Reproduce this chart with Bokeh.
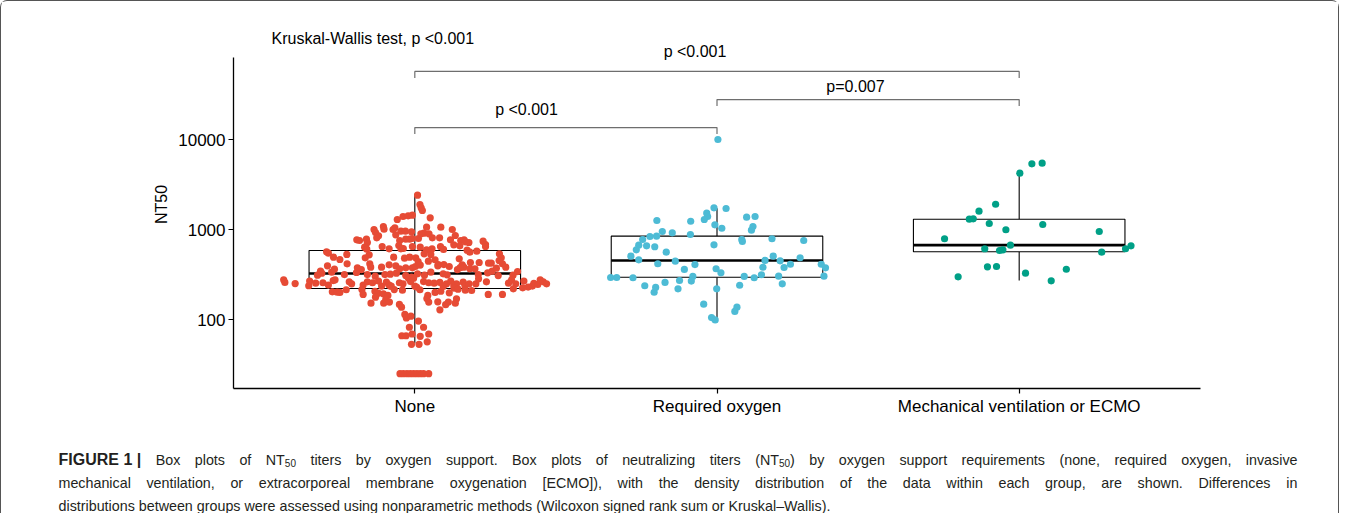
import numpy as np
from bokeh.plotting import figure
from bokeh.layouts import column, row
from bokeh.models import Label, FixedTicker, NumeralTickFormatter, Range1d
from bokeh.embed import file_html
from bokeh.resources import INLINE

# ---------------- data ----------------
categories = ["None", "Required oxygen", "Mechanical ventilation or ECMO"]
group_colors = ["#E64B35", "#4DBBD5", "#00A087"]

none_nt50 = [
    2407, 1895, 1740, 1626, 1348, 1395, 1419, 1443, 1292,
    1000, 926, 1080, 1009, 1000, 1044, 958, 958, 942, 1062, 1062, 1000,
    910, 895, 808, 808, 768, 755, 781, 717, 850, 808,
    872, 755, 781, 781, 794, 794, 895,
    858, 768, 755, 768, 729, 717, 742, 681,
    636, 605, 647, 610, 664, 615, 610,
    647, 636, 594, 610, 647, 600, 675, 658, 589, 560, 575, 647,
    565, 546, 528, 493, 464, 484, 523, 493, 480, 493, 484, 441,
    537, 528, 460, 408, 408, 388, 472, 405, 381, 430, 430, 423, 423, 537, 484, 416, 452,
    395, 362, 416, 375, 359, 416, 381, 381, 405, 395, 366, 375, 375, 388, 402, 445,
    344, 327, 311, 336, 316, 333, 316, 303, 316, 319, 327, 308, 288, 295, 288, 322, 311,
    336, 395, 322, 314, 359, 378, 366, 366, 316, 330, 344, 372, 308, 381, 311, 341,
    276, 258, 251, 237, 267, 253, 256, 241, 271, 276, 249, 262, 241, 262, 256, 267, 235,
    260, 243, 235, 256, 249, 264, 235, 229, 264, 256, 253, 258, 249, 267, 239, 249, 260,
    237, 249, 249, 283, 262, 253, 276, 249, 267, 229, 235, 253, 245, 276, 262, 249,
    203, 201, 200, 214, 215, 190, 206, 196, 193, 185, 235, 215, 212, 214, 185, 200, 206,
    233, 198, 223, 217, 212, 210, 190, 190, 219, 225,
    152, 177, 152, 167, 156, 147, 137, 171, 156, 157, 128, 146, 156, 170, 152,
    114, 104, 109, 96, 82, 82, 66, 66, 69, 65, 69, 53, 53, 56.5,
    25, 25, 25, 25, 25, 25, 25, 25, 25,
]
none_jitter = [
    0.009, 0.017, 0.021, 0.025, 0.051, -0.039, -0.022, -0.008, -0.058,
    -0.135, -0.130, -0.104, -0.102, -0.072, -0.066, -0.046, -0.031, -0.011, 0.039, 0.086, 0.124,
    0.030, 0.047, 0.082, 0.058, -0.192, -0.183, -0.160, -0.157, -0.120, -0.126,
    -0.063, -0.050, -0.030, -0.017, -0.008, 0.012, 0.020,
    0.134, 0.118, 0.152, 0.163, 0.168, 0.179, 0.226, 0.234,
    -0.166, -0.159, -0.108, -0.085, -0.053, -0.038, -0.046,
    -0.008, 0.018, 0.039, 0.057, 0.085, 0.095, 0.129, 0.149, 0.173, 0.182, 0.205, 0.234,
    -0.292, -0.286, -0.225, -0.269, -0.248, -0.164, -0.151, -0.070, -0.034, -0.017, 0.003, 0.011,
    0.031, 0.053, 0.067, 0.078, 0.096, 0.114, 0.147, 0.157, 0.162, 0.184, 0.213, 0.244, 0.253, 0.280, 0.286, 0.290, 0.279,
    -0.289, -0.266, -0.224, -0.190, -0.177, -0.149, -0.146, -0.110, -0.085, -0.063, -0.050, -0.030, -0.008, 0.002, 0.018, 0.045,
    -0.312, -0.308, -0.322, -0.275, -0.233, -0.193, -0.157, -0.131, -0.099, -0.081, -0.061, -0.030, -0.021, -0.011, -0.004, 0.009, 0.032,
    0.053, 0.076, 0.094, 0.107, 0.141, 0.150, 0.182, 0.199, 0.210, 0.241, 0.256, 0.270, 0.276, 0.301, 0.325, 0.340,
    -0.434, -0.430, -0.396, -0.351, -0.348, -0.328, -0.304, -0.286, -0.270, -0.264, -0.209, -0.217, -0.171, -0.157, -0.140, -0.120, -0.110,
    -0.094, -0.086, -0.081, -0.051, -0.039, -0.014, 0.000, 0.006, 0.029, 0.046, 0.064, 0.083, 0.105, 0.119, 0.129, 0.138, 0.160,
    0.166, 0.180, 0.202, 0.211, 0.237, 0.310, 0.320, 0.334, 0.361, 0.375, 0.389, 0.394, 0.407, 0.415, 0.425, 0.436,
    -0.273, -0.257, -0.248, -0.227, -0.175, -0.171, -0.132, -0.121, -0.104, -0.089, -0.078, -0.068, -0.041, 0.017, 0.043, 0.067, 0.086,
    0.094, 0.114, 0.130, 0.143, 0.167, 0.188, 0.243, 0.290, 0.326, 0.357,
    -0.145, -0.130, -0.103, -0.096, -0.084, -0.051, -0.044, 0.040, 0.046, 0.076, 0.083, 0.102, 0.111, 0.138, 0.134,
    -0.033, -0.028, -0.013, 0.012, -0.018, 0.029, -0.043, -0.029, -0.009, 0.018, 0.046, -0.011, 0.014, 0.041,
    -0.049, -0.038, -0.026, -0.015, -0.004, 0.007, 0.018, 0.029, 0.046,
]

oxygen_nt50 = [
    1742, 1711, 1517, 1394, 1292, 1371, 1394, 1259, 1236, 1127, 1033, 1080, 982,
    950, 918, 880, 836, 843, 774, 774, 736, 789, 755, 670, 659, 643, 676, 594,
    560, 505, 460, 445, 416, 408, 505, 453, 449, 485, 411, 378, 381, 411, 375,
    360, 366, 330, 301, 293, 293, 291, 301, 291, 314, 303, 303, 267, 271, 258,
    237, 227, 201, 219, 219, 240, 249, 148, 137, 123, 105, 99, 10000,
]
oxygen_jitter = [
    -0.010, 0.030, -0.034, -0.031, -0.042, 0.098, 0.126, -0.199, -0.087, -0.007, 0.016, 0.119, 0.114,
    -0.181, -0.148, -0.088, -0.222, -0.200, -0.246, 0.082, 0.084, 0.182, 0.287, -0.259, -0.233, -0.206, -0.010, -0.267,
    -0.168, -0.285, -0.259, -0.138, -0.196, -0.073, 0.186, 0.159, 0.209, 0.275, 0.243, 0.222, 0.152, 0.345, 0.359,
    -0.108, -0.003, 0.013, -0.080, -0.352, -0.332, -0.278, 0.090, 0.123, 0.147, 0.204, 0.354, -0.085, -0.124, -0.172,
    -0.239, -0.203, -0.208, -0.129, -0.001, 0.075, 0.216, -0.044, 0.066, 0.059, -0.018, -0.006, 0.003,
]

mech_nt50 = [
    4223, 5370, 5454, 1910, 1597, 1301, 1315, 1166, 1137, 993, 950, 789, 670,
    611, 585, 594, 560, 611, 659, 385, 388, 362, 327, 298, 269,
]
mech_jitter = [
    0.002, 0.042, 0.076, -0.078, -0.133, -0.165, -0.152, -0.099, 0.078, -0.044, 0.265, -0.247, -0.029,
    -0.114, -0.065, -0.054, 0.273, 0.352, 0.370, -0.105, -0.075, 0.156, 0.021, -0.202, 0.106,
]

# box-plot statistics as drawn in the reference
box_q1 = [221, 295, 565]
box_median = [324, 453, 670]
box_q3 = [585, 844, 1300]
whisker_low = [54, 99, 271]
whisker_high = [2407, 1726, 4225]

# pairwise comparisons (group a, group b, label)
comparisons = [(1, 2, "p <0.001"), (2, 3, "p=0.007"), (1, 3, "p <0.001")]
kruskal_text = "Kruskal-Wallis test, p <0.001"
y_label = "NT50"

# caption text; "_{..}" marks a subscript
caption_bold = "FIGURE 1 |"
caption_lines = [
    "Box plots of NT_{50} titers by oxygen support. Box plots of neutralizing titers (NT_{50}) by oxygen support requirements (none, required oxygen, invasive",
    "mechanical ventilation, or extracorporeal membrane oxygenation [ECMO]), with the density distribution of the data within each group, are shown. Differences in",
    "distributions between groups were assessed using nonparametric methods (Wilcoxon signed rank sum or Kruskal\u2013Wallis).",
]

# ---------------- layout (page px of the reference) ----------------
W = 1339
H_MAIN, H_CAP = 430, 83
BRD = 1                      # css border width
FL, FT, FR, FB = 233, 20, 1200, 388   # plot frame in page px
X0, X1 = 0.4, 3.6
Y0 = 10 ** (4 - (FB - 139) / 90.0)    # 90 px per decade, 10000 at y=139
Y1 = 10 ** (4 + (139 - FT) / 90.0)
FONT = "Liberation Sans"
BORDER = "1px solid #555555"


def dx(px):
    return X0 + (px - FL) / (FR - FL) * (X1 - X0)


def dy(py):
    ly0, ly1 = np.log10(Y0), np.log10(Y1)
    return 10 ** (ly1 - (py - FT) / (FB - FT) * (ly1 - ly0))


p = figure(width=W, height=H_MAIN, output_backend="svg", toolbar_location=None, title=None,
           x_range=Range1d(X0, X1), y_range=Range1d(Y0, Y1), y_axis_type="log",
           min_border_left=FL - BRD, min_border_right=W - (FR - BRD),
           min_border_top=FT - BRD, min_border_bottom=H_MAIN - (FB - BRD))
p.xgrid.visible = False
p.ygrid.visible = False
p.outline_line_color = None
p.background_fill_color = "white"
p.border_fill_color = "white"
p.styles = {"border-top": BORDER, "border-left": BORDER, "border-right": BORDER,
            "border-radius": "7px 7px 0 0"}

# axes
p.xaxis.ticker = FixedTicker(ticks=[1, 2, 3])
p.xaxis.major_label_overrides = {1: categories[0], 2: categories[1], 3: categories[2]}
p.yaxis.ticker = FixedTicker(ticks=[100, 1000, 10000])
p.yaxis.formatter = NumeralTickFormatter(format="0")
p.yaxis.bounds = (Y0, dy(57))
for ax in (p.xaxis, p.yaxis):
    ax.axis_line_color = "black"
    ax.axis_line_width = 1.3
    ax.major_tick_line_color = "black"
    ax.major_tick_line_width = 1.2
    ax.major_tick_out = 5
    ax.major_tick_in = 0
    ax.minor_tick_line_color = None
    ax.major_label_text_font = FONT
    ax.major_label_text_font_size = "17px"
    ax.major_label_text_color = "black"
    ax.major_label_standoff = 3
p.yaxis.axis_label = y_label
p.yaxis.axis_label_text_font = FONT
p.yaxis.axis_label_text_font_size = "16px"
p.yaxis.axis_label_text_font_style = "normal"
p.yaxis.axis_label_text_color = "black"
p.yaxis.axis_label_standoff = 5

# boxes
xs = [1, 2, 3]
half = 0.35
p.segment(x0=xs, y0=box_q3, x1=xs, y1=whisker_high, line_color="black", line_width=1.1)
p.segment(x0=xs, y0=box_q1, x1=xs, y1=whisker_low, line_color="black", line_width=1.1)
p.vbar(x=xs, width=2 * half, bottom=box_q1, top=box_q3, fill_color="white",
       line_color="black", line_width=1.1)
p.segment(x0=[x - half for x in xs], y0=box_median, x1=[x + half for x in xs], y1=box_median,
          line_color="black", line_width=2.6)

# jittered points
groups = [(none_nt50, none_jitter), (oxygen_nt50, oxygen_jitter), (mech_nt50, mech_jitter)]
for gi, (vals, jit) in enumerate(groups):
    p.scatter(x=[gi + 1 + j for j in jit], y=vals, size=7.2, marker="circle",
              fill_color=group_colors[gi], line_color=None)

# comparison brackets
ymax = max(max(none_nt50), max(oxygen_nt50), max(mech_nt50))
level_offsets = [0.133, 0.444, 0.756]   # decades above the data maximum
tick_drop = 0.072                       # decades
label_px = [(526, 109), (855, 86), (694.5, 51)]
for (a, b, lab), off, (lx, ly) in zip(comparisons, level_offsets, label_px):
    lvl = ymax * 10 ** off
    lo = lvl * 10 ** (-tick_drop)
    p.line(x=[a, a, b, b], y=[lo, lvl, lvl, lo], line_color="#6e6e6e", line_width=1.2)
    p.add_layout(Label(x=dx(lx), y=dy(ly), text=lab, text_align="center", text_baseline="middle",
                       text_font=FONT, text_font_size="16px", text_color="black"))

p.add_layout(Label(x=dx(271), y=dy(38), text=kruskal_text, text_align="left",
                   text_baseline="middle", text_font=FONT, text_font_size="16px",
                   text_color="black"))

# ---------------- caption panel (justified text) ----------------
cap_top = H_MAIN + BRD
cap = figure(width=W, height=H_CAP, output_backend="svg", toolbar_location=None, title=None,
             x_range=Range1d(0, W), y_range=Range1d(H_CAP, 0),
             x_axis_location=None, y_axis_location=None,
             min_border_left=0, min_border_right=0, min_border_top=0, min_border_bottom=0)
cap.xgrid.visible = False
cap.ygrid.visible = False
cap.outline_line_color = None
cap.background_fill_color = "white"
cap.border_fill_color = "white"
cap.styles = {"border-left": BORDER, "border-right": BORDER}

# Arial / Liberation Sans advance widths (1/1000 em)
_w = {" ": 278, "(": 333, ")": 333, ",": 278, "-": 333, ".": 278, "[": 278, "]": 278,
      "|": 260, "\u2013": 556}
for ch in "0123456789":
    _w[ch] = 556
for ch, v in zip("abcdefghijklmnopqrstuvwxyz",
                 [556, 556, 500, 556, 556, 278, 556, 556, 222, 222, 500, 222, 833,
                  556, 556, 556, 556, 333, 500, 278, 556, 500, 722, 500, 500, 500]):
    _w[ch] = v
for ch, v in zip("ABCDEFGHIJKLMNOPQRSTUVWXYZ",
                 [667, 667, 722, 722, 667, 611, 778, 722, 278, 500, 667, 556, 833,
                  722, 778, 667, 778, 722, 667, 611, 722, 667, 944, 667, 667, 611]):
    _w[ch] = v
_wb = {"F": 611, "I": 278, "G": 778, "U": 722, "R": 722, "E": 667, "1": 556, "|": 280, " ": 278}

CAP_PX = 14.3
BOLD_PX = 16.0
SUB = 0.7
CAP_LEFT, CAP_RIGHT = 58, 1297
cap_y = [460, 483, 506]       # line positions, page px
CAP_COLOR = "#231f20"


def runs_of(word):
    out = []
    while "_{" in word:
        i = word.index("_{")
        j = word.index("}", i)
        if i > 0:
            out.append((word[:i], False))
        out.append((word[i + 2:j], True))
        word = word[j + 1:]
    if word:
        out.append((word, False))
    return out


def run_w(text, bold, sub):
    table = _wb if bold else _w
    size = BOLD_PX if bold else CAP_PX
    return sum(table.get(ch, 556) for ch in text) / 1000.0 * size * (SUB if sub else 1.0)


lines = [[(caption_bold, True)] + [(w, False) for w in caption_lines[0].split()]]
lines += [[(w, False) for w in ln.split()] for ln in caption_lines[1:]]

for li, words in enumerate(lines):
    widths = [sum(run_w(t, b, s) for t, s in runs_of(w)) for w, b in words]
    if li < len(lines) - 1:
        gap = (CAP_RIGHT - CAP_LEFT - sum(widths)) / (len(words) - 1)
    else:
        gap = _w[" "] / 1000.0 * CAP_PX
    base = cap_y[li] - cap_top
    xcur = CAP_LEFT - BRD
    for (w, bold), wd in zip(words, widths):
        xx = xcur
        runs = [(w, False)] if bold else runs_of(w)
        for t, sub in runs:
            size = (BOLD_PX if bold else CAP_PX) * (SUB if sub else 1.0)
            cap.add_layout(Label(
                x=xx, y=base + (0.27 * CAP_PX if sub else 0), text=t,
                text_align="left", text_baseline="alphabetic", text_font=FONT,
                text_font_size=f"{size:.2f}px",
                text_font_style="bold" if bold else "normal", text_color=CAP_COLOR))
            xx += run_w(t, bold, sub)
        xcur += wd + gap

layout = column(p, row(cap, spacing=0), spacing=0)
open("out.html", "w").write(file_html(layout, INLINE))
